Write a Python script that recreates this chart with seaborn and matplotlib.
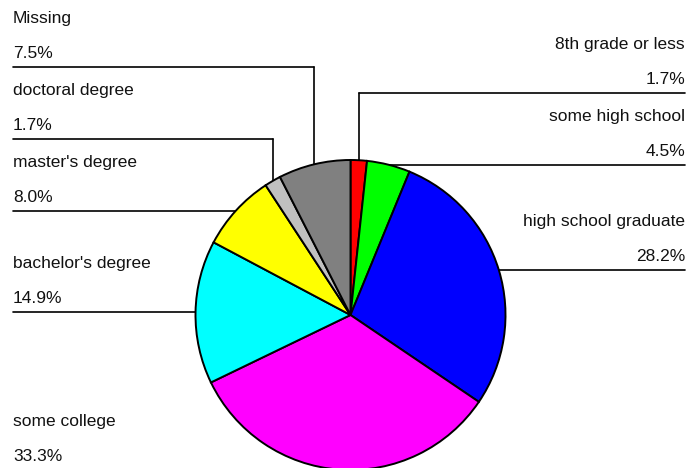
import numpy as np
import matplotlib
matplotlib.use("Agg")
import matplotlib.pyplot as plt
import seaborn as sns

categories = ["8th grade or less", "some high school", "high school graduate",
              "some college", "bachelor's degree", "master's degree",
              "doctoral degree", "Missing"]
percents = [1.7, 4.5, 28.2, 33.3, 14.9, 8.0, 1.7, 7.5]
pct_labels = ["1.7%", "4.5%", "28.2%", "33.3%", "14.9%", "8.0%", "1.7%", "7.5%"]
colors = ["#FF0000", "#00FF00", "#0000FF", "#FF00FF", "#00FFFF", "#FFFF00",
          "#C0C0C0", "#808080"]

sns.set_style("white")
plt.rcParams['font.family'] = ['Liberation Sans', 'DejaVu Sans']

W, H = 687, 468
fig = plt.figure(figsize=(W / 100, H / 100), dpi=100)
ax = fig.add_axes([0, 0, 1, 1])

cx, cy, r = 350.5, 315.0, 155.0
ax.pie(percents, colors=colors, startangle=-90, counterclock=True,
       center=(cx, cy), radius=r, frame=True,
       wedgeprops=dict(edgecolor="black", linewidth=1.4, zorder=3))
ax.set_xlim(0, W)
ax.set_ylim(H, 0)
ax.set_aspect("equal")
ax.axis("off")

# leader-line anchor points at slice mid-angles
vals = np.array(percents) / np.sum(percents)
cum = np.cumsum(vals) - vals / 2
theta = np.deg2rad(-90 + cum * 360)
px = cx + r * np.cos(theta)
py = cy + r * np.sin(theta)

spacing = 72
left_x, right_x = 13, 685
for side in ("left", "right"):
    idx = [i for i in range(len(categories)) if (px[i] < cx) == (side == "left")]
    idx.sort(key=lambda i: -py[i])
    prev = None
    for i in idx:
        ly = py[i] if prev is None else min(py[i], prev - spacing)
        prev = ly
        ex = left_x if side == "left" else right_x
        ax.plot([ex, px[i]], [ly, ly], color="black", lw=1.2, zorder=1)
        ax.plot([px[i], px[i]], [ly, py[i]], color="black", lw=1.2, zorder=1)
        ha = "left" if side == "left" else "right"
        ax.text(ex, ly - 9, pct_labels[i], ha=ha, va="baseline",
                fontsize=12.5, color="#111111")
        ax.text(ex, ly - 44, categories[i], ha=ha, va="baseline",
                fontsize=12.5, color="#111111")

fig.savefig("out.png", dpi=100, facecolor="white")
